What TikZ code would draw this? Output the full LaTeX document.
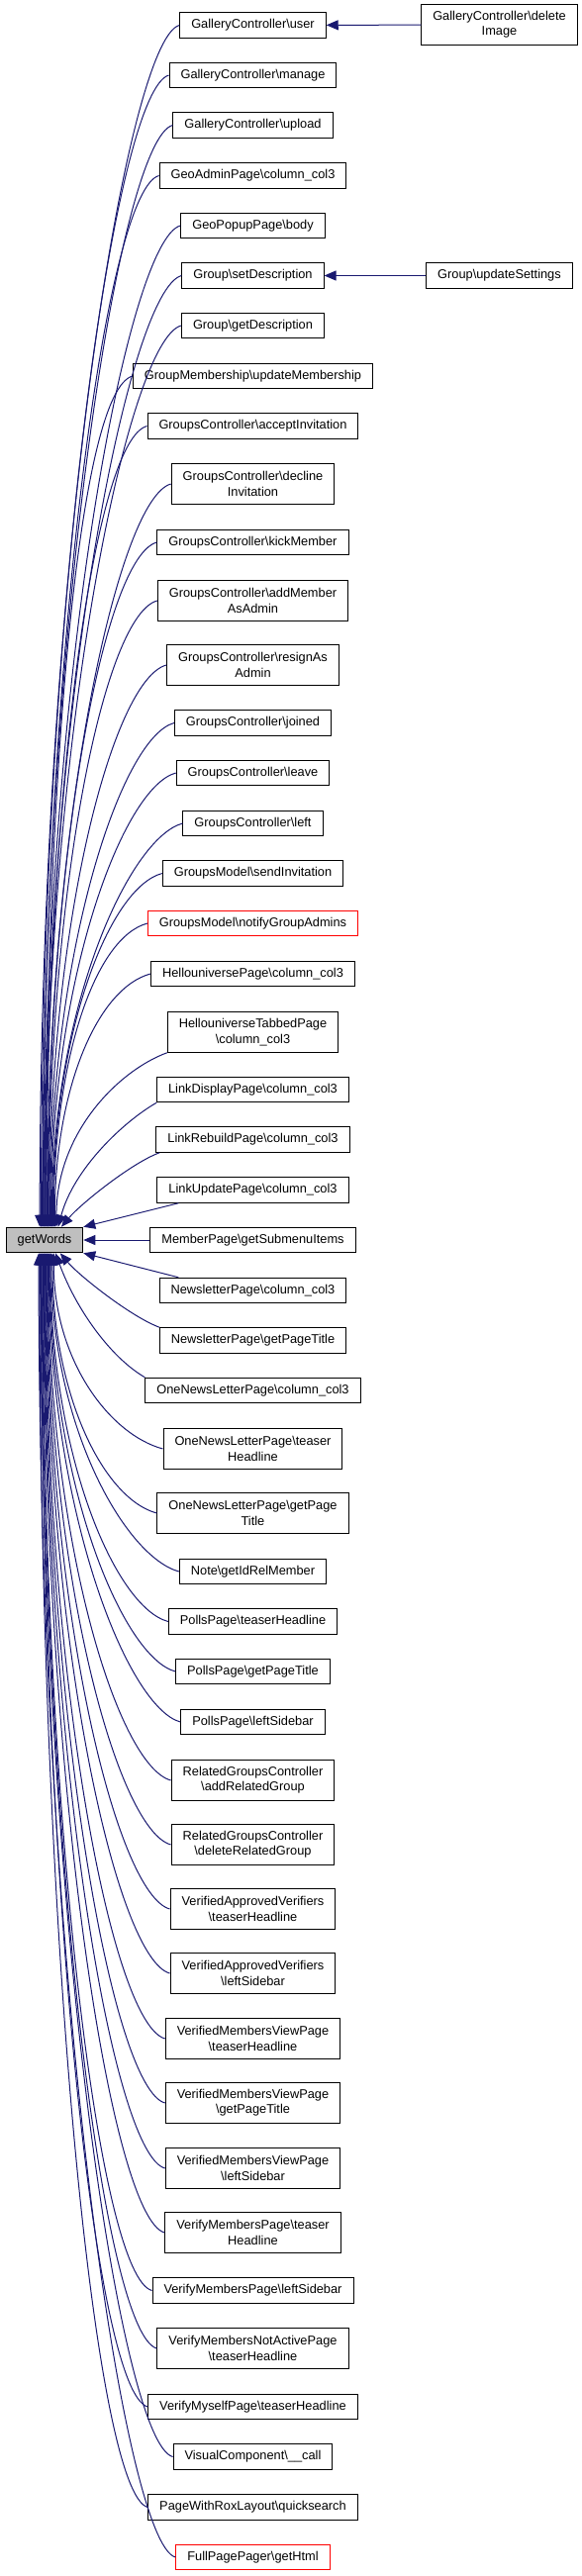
\documentclass[tikz,border=0pt]{standalone}
\usepackage{fontspec}
\setmainfont{Liberation Sans}
\usetikzlibrary{arrows.meta}
\definecolor{callblue}{HTML}{191970}
\definecolor{selgray}{HTML}{BFBFBF}
\newcommand{\bsl}{\textbackslash}
\tikzset{
	fn/.style={draw=black, line width=1pt, fill=white, align=center,
		font=\fontsize{12.8}{15.3}\selectfont,
		inner xsep=11.5pt, inner ysep=0pt, minimum height=25.5pt},
	fn2/.style={fn, minimum height=40.5pt},
	fnred/.style={fn, draw=red},
	fnsel/.style={fn, fill=selgray},
	call/.style={draw=callblue, line width=1pt, -{Triangle[length=12pt,width=10pt]}}
}
\begin{document}
\begin{tikzpicture}[x=1pt, y=1pt]
		\useasboundingbox (0,0) rectangle (587,-2603);
		% called function
		\node[fnsel] (getwords) at (45,-1253) {getWords};
		% callers
		\node[fn] (gcuser) at (255.5,-25.5) {GalleryController\bsl user};
		\node[fn] (gcmanage) at (255.5,-76) {GalleryController\bsl manage};
		\node[fn] (gcupload) at (255.5,-126.5) {GalleryController\bsl upload};
		\node[fn] (geoadmin) at (255.5,-177.5) {GeoAdminPage\bsl column\_col3};
		\node[fn] (geopopup) at (255.5,-228) {GeoPopupPage\bsl body};
		\node[fn] (setdesc) at (255.5,-278.5) {Group\bsl setDescription};
		\node[fn] (getdesc) at (255.5,-329) {Group\bsl getDescription};
		\node[fn] (updmember) at (255.5,-380) {GroupMembership\bsl updateMembership};
		\node[fn] (accinv) at (255.5,-430.5) {GroupsController\bsl acceptInvitation};
		\node[fn2] (declinv) at (255.5,-489) {GroupsController\bsl decline\\Invitation};
		\node[fn] (kick) at (255.5,-548) {GroupsController\bsl kickMember};
		\node[fn2] (addadmin) at (255.5,-607) {GroupsController\bsl addMember\\AsAdmin};
		\node[fn2] (resign) at (255.5,-672) {GroupsController\bsl resignAs\\Admin};
		\node[fn] (joined) at (255.5,-730.5) {GroupsController\bsl joined};
		\node[fn] (leave) at (255.5,-781) {GroupsController\bsl leave};
		\node[fn] (left) at (255.5,-832) {GroupsController\bsl left};
		\node[fn] (sendinv) at (255.5,-882.5) {GroupsModel\bsl sendInvitation};
		\node[fnred] (notify) at (255.5,-933) {GroupsModel\bsl notifyGroupAdmins};
		\node[fn] (hello) at (255.5,-984) {HellouniversePage\bsl column\_col3};
		\node[fn2] (hellotab) at (255.5,-1043) {HellouniverseTabbedPage\\\bsl column\_col3};
		\node[fn] (linkdisp) at (255.5,-1101) {LinkDisplayPage\bsl column\_col3};
		\node[fn] (linkreb) at (255.5,-1151.5) {LinkRebuildPage\bsl column\_col3};
		\node[fn] (linkupd) at (255.5,-1202.5) {LinkUpdatePage\bsl column\_col3};
		\node[fn] (submenu) at (255.5,-1253) {MemberPage\bsl getSubmenuItems};
		\node[fn] (nlcol) at (255.5,-1304) {NewsletterPage\bsl column\_col3};
		\node[fn] (nltitle) at (255.5,-1354.5) {NewsletterPage\bsl getPageTitle};
		\node[fn] (onecol) at (255.5,-1405) {OneNewsLetterPage\bsl column\_col3};
		\node[fn2] (oneteaser) at (255.5,-1464) {OneNewsLetterPage\bsl teaser\\Headline};
		\node[fn2] (onetitle) at (255.5,-1529) {OneNewsLetterPage\bsl getPage\\Title};
		\node[fn] (note) at (255.5,-1588) {Note\bsl getIdRelMember};
		\node[fn] (pollteaser) at (255.5,-1638.5) {PollsPage\bsl teaserHeadline};
		\node[fn] (polltitle) at (255.5,-1689) {PollsPage\bsl getPageTitle};
		\node[fn] (pollside) at (255.5,-1740) {PollsPage\bsl leftSidebar};
		\node[fn2] (addrel) at (255.5,-1799) {RelatedGroupsController\\\bsl addRelatedGroup};
		\node[fn2] (delrel) at (255.5,-1864) {RelatedGroupsController\\\bsl deleteRelatedGroup};
		\node[fn2] (vavteaser) at (255.5,-1929) {VerifiedApprovedVerifiers\\\bsl teaserHeadline};
		\node[fn2] (vavside) at (255.5,-1994) {VerifiedApprovedVerifiers\\\bsl leftSidebar};
		\node[fn2] (vmvteaser) at (255.5,-2060) {VerifiedMembersViewPage\\\bsl teaserHeadline};
		\node[fn2] (vmvtitle) at (255.5,-2125) {VerifiedMembersViewPage\\\bsl getPageTitle};
		\node[fn2] (vmvside) at (255.5,-2191) {VerifiedMembersViewPage\\\bsl leftSidebar};
		\node[fn2] (vmpteaser) at (255.5,-2256) {VerifyMembersPage\bsl teaser\\Headline};
		\node[fn] (vmpside) at (255.5,-2314.5) {VerifyMembersPage\bsl leftSidebar};
		\node[fn2] (vmnateaser) at (255.5,-2373) {VerifyMembersNotActivePage\\\bsl teaserHeadline};
		\node[fn] (myself) at (255.5,-2432) {VerifyMyselfPage\bsl teaserHeadline};
		\node[fn] (visual) at (255.5,-2482.5) {VisualComponent\bsl\_\_call};
		\node[fn] (quicksearch) at (255.5,-2533.5) {PageWithRoxLayout\bsl quicksearch};
		\node[fnred] (fullpager) at (255.5,-2584) {FullPagePager\bsl getHtml};
		% second level callers
		\node[fn2] (delimg) at (504.5,-25) {GalleryController\bsl delete\\Image};
		\node[fn] (updsettings) at (504.5,-278.5) {Group\bsl updateSettings};
		\draw[call] (delimg) -- (gcuser);
		\draw[call] (updsettings) -- (setdesc);
		% calls from above
		\draw[call] (gcuser.west) .. controls +(195:55) and +(90:668) .. (getwords.110);
		\draw[call] (gcmanage.west) .. controls +(195:55) and +(90:640) .. (getwords.105);
		\draw[call] (gcupload.west) .. controls +(195:55) and +(90:612) .. (getwords.100);
		\draw[call] (geoadmin.west) .. controls +(195:55) and +(90:584) .. (getwords.97);
		\draw[call] (geopopup.west) .. controls +(195:55) and +(90:557) .. (getwords.94);
		\draw[call] (setdesc.west) .. controls +(195:55) and +(90:529) .. (getwords.91);
		\draw[call] (getdesc.west) .. controls +(195:55) and +(90:501) .. (getwords.88);
		\draw[call] (updmember.west) .. controls +(195:55) and +(90:473) .. (getwords.85);
		\draw[call] (accinv.west) .. controls +(195:55) and +(90:445) .. (getwords.82);
		\draw[call] (declinv.west) .. controls +(195:55) and +(90:413) .. (getwords.79);
		\draw[call] (kick.west) .. controls +(195:55) and +(90:381) .. (getwords.76);
		\draw[call] (addadmin.west) .. controls +(195:55) and +(90:348) .. (getwords.73);
		\draw[call] (resign.west) .. controls +(195:55) and +(90:312) .. (getwords.70);
		\draw[call] (joined.west) .. controls +(195:55) and +(90:280) .. (getwords.67);
		\draw[call] (leave.west) .. controls +(195:55) and +(90:252) .. (getwords.64);
		\draw[call] (left.west) .. controls +(195:55) and +(90:224) .. (getwords.61);
		\draw[call] (sendinv.west) .. controls +(195:55) and +(90:197) .. (getwords.58);
		\draw[call] (notify.west) .. controls +(195:55) and +(90:169) .. (getwords.55);
		\draw[call] (hello.west) .. controls +(195:55) and +(90:141) .. (getwords.52);
		\draw[call] (hellotab.south west) .. controls +(200:50) and +(90:97) .. (getwords.48);
		\draw[call] (linkdisp.south west) .. controls +(210:40) and +(75:60) .. (getwords.44);
		\draw[call] (linkreb.188) .. controls +(200:30) and +(50:30) .. (getwords.38);
		\draw[call] (linkupd.190) -- (getwords.north east);
		\draw[call] (submenu) -- (getwords);
		% calls from below
		\draw[call] (nlcol.170) -- (getwords.south east);
		\draw[call] (nltitle.172) .. controls +(160:30) and +(-50:30) .. (getwords.-40);
		\draw[call] (onecol.north west) .. controls +(150:40) and +(-70:60) .. (getwords.-50);
		\draw[call] (oneteaser.west) .. controls +(165:55) and +(-90:109) .. (getwords.-55);
		\draw[call] (onetitle.west) .. controls +(165:55) and +(-90:145) .. (getwords.-59);
		\draw[call] (note.west) .. controls +(165:55) and +(-90:177) .. (getwords.-63);
		\draw[call] (pollteaser.west) .. controls +(165:55) and +(-90:205) .. (getwords.-66);
		\draw[call] (polltitle.west) .. controls +(165:55) and +(-90:233) .. (getwords.-69);
		\draw[call] (pollside.west) .. controls +(165:55) and +(-90:261) .. (getwords.-72);
		\draw[call] (addrel.west) .. controls +(165:55) and +(-90:293) .. (getwords.-75);
		\draw[call] (delrel.west) .. controls +(165:55) and +(-90:329) .. (getwords.-78);
		\draw[call] (vavteaser.west) .. controls +(165:55) and +(-90:365) .. (getwords.-81);
		\draw[call] (vavside.west) .. controls +(165:55) and +(-90:400) .. (getwords.-84);
		\draw[call] (vmvteaser.west) .. controls +(165:55) and +(-90:437) .. (getwords.-87);
		\draw[call] (vmvtitle.west) .. controls +(165:55) and +(-90:472) .. (getwords.-90);
		\draw[call] (vmvside.west) .. controls +(165:55) and +(-90:509) .. (getwords.-93);
		\draw[call] (vmpteaser.west) .. controls +(165:55) and +(-90:545) .. (getwords.-96);
		\draw[call] (vmpside.west) .. controls +(165:55) and +(-90:577) .. (getwords.-99);
		\draw[call] (vmnateaser.west) .. controls +(165:55) and +(-90:609) .. (getwords.-102);
		\draw[call] (myself.west) .. controls +(165:55) and +(-90:641) .. (getwords.-105);
		\draw[call] (visual.west) .. controls +(165:55) and +(-90:669) .. (getwords.-108);
		\draw[call] (quicksearch.west) .. controls +(165:55) and +(-90:697) .. (getwords.-111);
		\draw[call] (fullpager.west) .. controls +(165:55) and +(-90:725) .. (getwords.-114);
	\end{tikzpicture}
\end{document}
